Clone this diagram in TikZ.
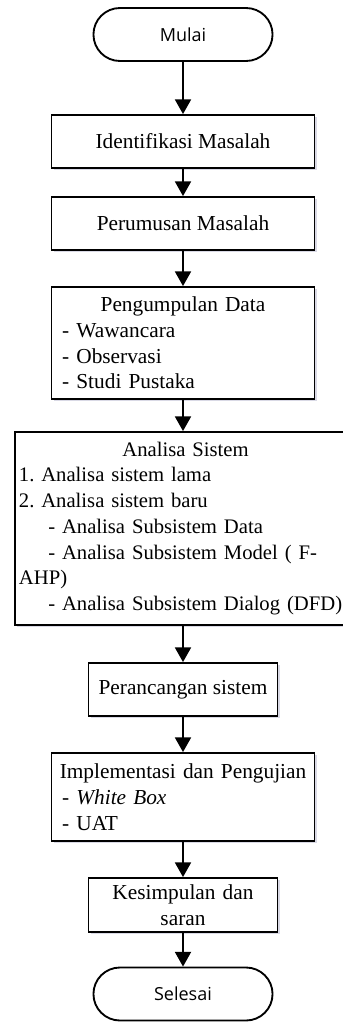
\documentclass[tikz,border=0pt]{standalone}
\usepackage{fontspec}
\setmainfont{Liberation Serif}
\newfontfamily\termfont{Open Sans}
\usetikzlibrary{arrows.meta,shapes.misc,shadows}
\frenchspacing
\tikzset{
  terminal/.style={rounded rectangle, draw, line width=1.4pt, fill=white, minimum width=141pt, minimum height=39.75pt, font=\termfont\fontsize{13.5}{16}\selectfont},
  proses/.style={rectangle, draw, line width=1.4pt, fill=white, drop shadow={shadow xshift=1.5pt, shadow yshift=-1.5pt, opacity=0.25, fill=blue!20!gray}, minimum height=39.75pt, font=\fontsize{16}{19.3}\selectfont},
  lebar/.style={proses, minimum width=197.25pt},
  sempit/.style={proses, minimum width=141.75pt},
  panah/.style={-{Triangle[width=12pt,length=11pt]}, line width=1.4pt}
}
\begin{document}
\begin{tikzpicture}[x=0.75pt,y=-0.75pt]
\useasboundingbox (0,0) rectangle (343,1022);
\node[terminal] (mulai) at (183,34.5) {Mulai};
\node[lebar] (identifikasi) at (183,141.5) {Identifikasi Masalah};
\node[lebar] (perumusan) at (183,223.5) {Perumusan Masalah};
\node[lebar, minimum height=84pt, text width=187.25pt, inner xsep=5pt, align=left] (pengumpulan) at (183,343) {\hfill Pengumpulan Data\hfill\null\\\hspace{3pt}- Wawancara\\\hspace{3pt}- Observasi\\\hspace{3pt}- Studi Pustaka};
\node[proses, anchor=west, minimum height=144.75pt, text width=250pt, inner xsep=3pt, align=left, font=\fontsize{15.5}{19.3}\selectfont] (analisa) at (14,528.5) {\hfill Analisa Sistem\hfill\null\\1. Analisa sistem lama\\2. Analisa sistem baru\\\hspace{22pt}- Analisa Subsistem Data\\\hspace{22pt}- Analisa Subsistem Model ( F-\\AHP)\\\hspace{22pt}- Analisa Subsistem Dialog (DFD)};
\node[sempit] (perancangan) at (183,689.5) {Perancangan sistem};
\node[lebar, minimum height=66pt, text width=187.25pt, inner xsep=5pt, align=left] (implementasi) at (183,797) {\hfill Implementasi dan Pengujian\hfill\null\\\hspace{3pt}- \textit{White Box}\\\hspace{3pt}- UAT};
\node[sempit, minimum height=40.5pt, text width=133.75pt, inner xsep=4pt, align=center] (kesimpulan) at (183,905) {Kesimpulan dan\\saran};
\node[terminal] (selesai) at (183,994) {Selesai};
\draw[panah] (mulai) -- (identifikasi);
\draw[panah] (identifikasi) -- (perumusan);
\draw[panah] (perumusan) -- (pengumpulan);
\draw[panah] (pengumpulan) -- (analisa.north -| pengumpulan);
\draw[panah] (analisa.south -| perancangan) -- (perancangan);
\draw[panah] (perancangan) -- (implementasi);
\draw[panah] (implementasi) -- (kesimpulan);
\draw[panah] (kesimpulan) -- (selesai);
\end{tikzpicture}
\end{document}
